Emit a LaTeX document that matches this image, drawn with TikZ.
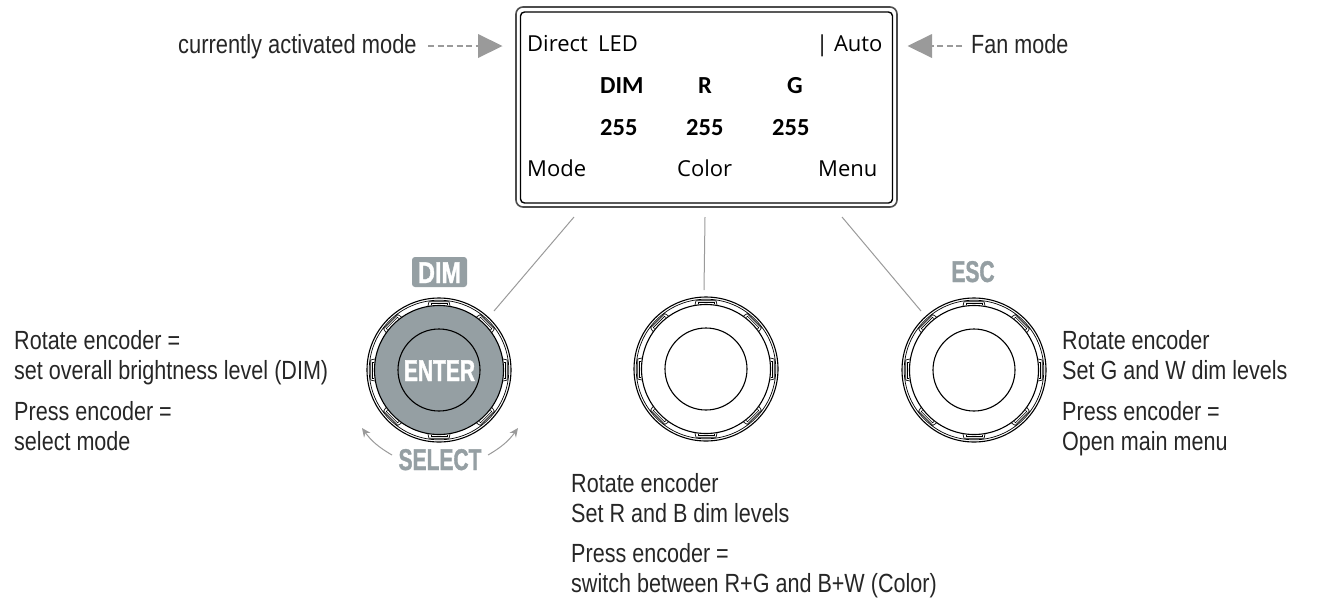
\documentclass[tikz,border=0pt]{standalone}
\usepackage{fontspec}
\setmainfont{Liberation Sans}
\newfontfamily\labelfont[FakeStretch=0.82]{Liberation Sans}
\newfontfamily\tagfont[FakeStretch=0.7,FakeBold=1.2]{Liberation Sans Bold}
\newfontfamily\lcdfont{Open Sans}
\newfontfamily\lcdbold{Carlito}
\usetikzlibrary{arrows.meta}
\definecolor{tagc}{HTML}{959FA3}
\definecolor{linec}{HTML}{9A9A9A}
\tikzset{
  lab/.style={anchor=base west,inner sep=0pt,font=\labelfont\fontsize{26.3}{26}\selectfont,text=black!85},
  lcd/.style={anchor=base west,inner sep=0pt,font=\lcdfont\fontsize{22}{22}\selectfont},
  lcdb/.style={anchor=base west,inner sep=0pt,font=\lcdbold\bfseries\fontsize{24.5}{24}\selectfont},
  tagtext/.style={anchor=base,inner sep=0pt,font=\tagfont\fontsize{30}{30}\selectfont},
  leader/.style={draw=linec,line width=1pt},
  dashline/.style={draw=linec,line width=1.6pt,dash pattern=on 6pt off 3.5pt},
  headtri/.style={fill=linec,draw=none},
  curved/.style={draw=linec,line width=1pt,-{Stealth[length=9pt,width=8pt,inset=3pt]}},
}
\newcommand{\encoder}[4]{% x, y, fill, name
  \begin{scope}[shift={(#1,#2)}]
    \node[circle,draw=black,line width=1.1pt,minimum size=144pt,inner sep=0pt] (#4outer) at (0,0) {};
    \draw[black,line width=.7pt] (0,0) circle[radius=69.8];
    \node[circle,draw=black,fill=#3,line width=1.1pt,minimum size=129pt,inner sep=0pt] (#4ring) at (0,0) {};
    \foreach \a in {0,45,...,315}{
      \begin{scope}[rotate=\a]
        \draw[black,line width=.7pt] (-11,64.2) -- (-10,68.3) -- (10,68.3) -- (11,64.2);
        \draw[black,line width=.6pt] (-8,64.8) -- (-8,66.6) -- (8,66.6) -- (8,64.8);
      \end{scope}
    }
    \node[circle,draw=black,fill=#3,line width=1.1pt,minimum size=82pt,inner sep=0pt] (#4core) at (0,0) {};
  \end{scope}
}
\begin{document}
\begin{tikzpicture}[x=1pt,y=-1pt]
\useasboundingbox (0,0) rectangle (1320,614);
% display
\node[draw=black!70,line width=1.6pt,rounded corners=7pt,minimum width=381pt,minimum height=200pt,inner sep=0pt] (lcdouter) at (706.5,107) {};
\node[draw=black,line width=1.4pt,rounded corners=4pt,minimum width=372pt,minimum height=191pt,inner sep=0pt] (lcdinner) at (706.5,107.5) {};
\node[lcd] (direct) at (527,51) {Direct};
\node[lcd] (led) at (598,51) {LED};
\node[lcd] (auto) at (816,51) {| Auto};
\node[lcdb] (dim) at (600,93) {DIM};
\node[lcdb] (r) at (698,93) {R};
\node[lcdb] (g) at (787,93) {G};
\node[lcdb] (v1) at (600,135) {255};
\node[lcdb] (v2) at (686,135) {255};
\node[lcdb] (v3) at (772,135) {255};
\node[lcd] (mode) at (527,176) {Mode};
\node[lcd] (color) at (677,176) {Color};
\node[lcd] (menu) at (818,176) {Menu};
% top labels
\node[lab,xscale=1.015] (cur) at (178,53) {currently activated mode};
\node[lab] (fan) at (971,53) {Fan mode};
\coordinate (a1s) at (428,46); \coordinate (a1e) at (479,46);
\coordinate (a2s) at (962,46); \coordinate (a2e) at (931,46);
\draw[dashline] (a1s) -- (a1e);
\draw[dashline] (a2s) -- (a2e);
\fill[headtri] (478,34) -- (502.5,46) -- (478,58) -- cycle;
\fill[headtri] (932,34) -- (907.5,46) -- (932,58) -- cycle;
% encoders
\encoder{439}{370}{tagc}{e1}
\encoder{706}{369}{white}{e2}
\encoder{974}{370}{white}{e3}
\node[anchor=base,inner sep=0pt,text=white,font=\tagfont\fontsize{30}{30}\selectfont] (enter) at (439.5,381) {ENTER};
% leader lines
\coordinate (l1a) at (574,217); \coordinate (l1b) at (494,311);
\coordinate (l2a) at (705,217); \coordinate (l2b) at (704,290);
\coordinate (l3a) at (842,217); \coordinate (l3b) at (921,311);
\draw[leader] (l1a) -- (l1b);
\draw[leader] (l2a) -- (l2b);
\draw[leader] (l3a) -- (l3b);
% tags
\node[fill=tagc,rounded corners=3pt,minimum width=55pt,minimum height=30pt,inner sep=0pt] (dimbox) at (439.5,272) {};
\node[tagtext,text=white,xscale=1.12] (dimt) at (439.5,283) {DIM};
\node[tagtext,text=tagc] (esc) at (973,282) {ESC};
\node[tagtext,text=tagc] (sel) at (440,470) {SELECT};
\coordinate (c1s) at (392,455); \coordinate (c1e) at (362,428);
\coordinate (c2s) at (488,455); \coordinate (c2e) at (518,428);
\draw[curved] (c1s) to[bend left=12] (c1e);
\draw[curved] (c2s) to[bend right=12] (c2e);
% left text
\node[lab] (t1) at (14,349) {Rotate encoder =};
\node[lab] (t2) at (14,379) {set overall brightness level (DIM)};
\node[lab] (t3) at (14,420) {Press encoder =};
\node[lab] (t4) at (14,450) {select mode};
% middle text
\node[lab] (m1) at (571,492) {Rotate encoder};
\node[lab] (m2) at (571,522) {Set R and B dim levels};
\node[lab] (m3) at (571,562) {Press encoder =};
\node[lab] (m4) at (571,592) {switch between R+G and B+W (Color)};
% right text
\node[lab] (r1) at (1062,349) {Rotate encoder};
\node[lab] (r2) at (1062,379) {Set G and W dim levels};
\node[lab] (r3) at (1062,420) {Press encoder =};
\node[lab] (r4) at (1062,450) {Open main menu};
\end{tikzpicture}
\end{document}
